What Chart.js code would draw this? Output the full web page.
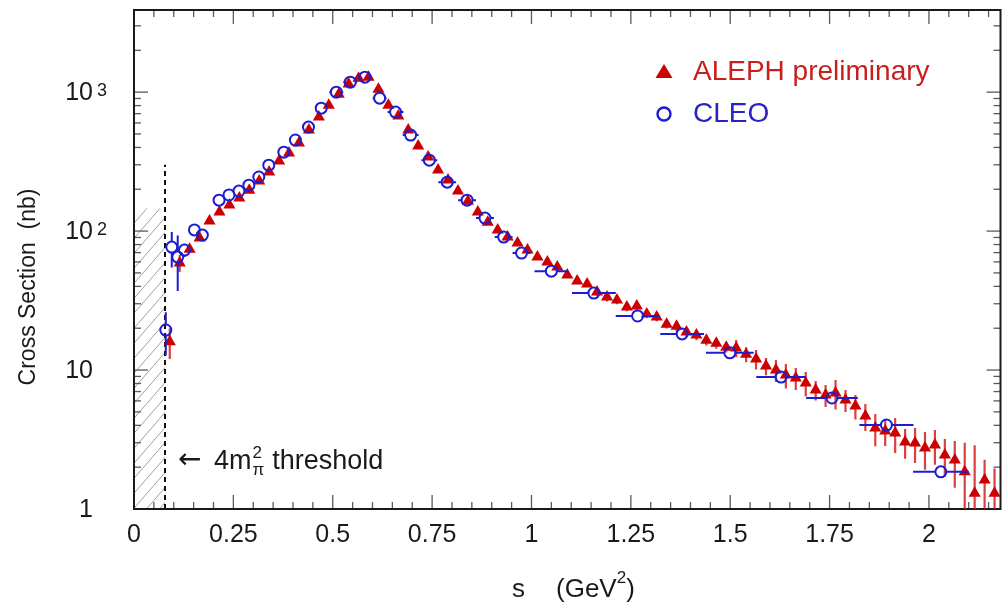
<!DOCTYPE html>
<html>
<head>
<meta charset="utf-8">
<script src="https://cdn.jsdelivr.net/npm/chart.js@4.4.1/dist/chart.umd.min.js"></script>
<style>
  html, body { margin: 0; padding: 0; background: #fff; }
  #wrap { width: 1008px; height: 603px; position: relative; }
</style>
</head>
<body>
<div id="wrap"><canvas id="c" width="1008" height="603"></canvas></div>
<script>
// pi+pi- cross section versus s: ALEPH (tau spectral function) and CLEO
const alephS = [
  0.09, 0.115, 0.14, 0.165, 0.19, 0.215, 0.24, 0.265, 0.29, 0.315,
  0.34, 0.365, 0.39, 0.415, 0.44, 0.465, 0.49, 0.515, 0.54, 0.565,
  0.59, 0.615, 0.64, 0.665, 0.69, 0.715, 0.74, 0.765, 0.79, 0.815,
  0.84, 0.865, 0.89, 0.915, 0.94, 0.965, 0.99, 1.015, 1.04, 1.065,
  1.09, 1.115, 1.14, 1.165, 1.19, 1.215, 1.24, 1.265, 1.29, 1.315,
  1.34, 1.365, 1.39, 1.415, 1.44, 1.465, 1.49, 1.515, 1.54, 1.565,
  1.59, 1.615, 1.64, 1.665, 1.69, 1.715, 1.74, 1.765, 1.79, 1.815,
  1.84, 1.865, 1.89, 1.915, 1.94, 1.965, 1.99, 2.015, 2.04, 2.065,
  2.09, 2.115, 2.14, 2.165
];
const alephSigma = [
  16, 59, 74, 89, 118, 137, 154, 173, 197, 229,
  266, 319, 364, 430, 533, 661, 806, 967, 1142, 1261,
  1282, 1051, 806, 672, 533, 409, 341, 275, 233, 194,
  164, 137, 116, 102, 90.5, 82.0, 73.0, 65.0, 59.8, 55.1,
  48.3, 43.7, 41.6, 36.4, 33.5, 31.9, 28.4, 28.9, 25.3, 24.1,
  21.4, 20.7, 18.8, 17.9, 16.4, 15.6, 14.6, 14.4, 13.0, 12.0,
  10.7, 10.0, 9.2, 8.76, 8.06, 7.18, 6.61, 6.83, 6.08, 5.51,
  4.67, 3.83, 3.64, 3.52, 3.03, 2.98, 2.75, 2.89, 2.45, 2.25,
  1.85, 1.30, 1.62, 1.30
];
const alephErr = [
  4, 8.3, 4, 3, 3, 3, 3, 3, 4, 4,
  5, 6, 6, 7, 8, 10, 12, 14, 16, 18,
  18, 16, 12, 10, 8, 6, 5, 4, 4, 3,
  3, 3, 2.8, 2.5, 2.2, 2.0, 1.9, 1.8, 1.7, 1.6,
  1.5, 1.5, 1.5, 2.5, 2.3, 2.2, 1.9, 2.0, 1.7, 1.65,
  1.5, 1.8, 1.6, 1.5, 1.4, 1.35, 1.25, 2.04, 1.60, 1.93,
  1.52, 1.80, 1.84, 1.58, 1.61, 1.15, 1.19, 1.64, 1.09, 1.10,
  1.03, 1.0, 0.80, 0.99, 0.73, 0.84, 0.83, 0.81, 0.74, 0.83,
  1.15, 1.57, 0.64, 0.66
];

const cleoS = [
  0.080, 0.095, 0.110, 0.127, 0.152, 0.172, 0.214, 0.239, 0.264, 0.289,
  0.314, 0.339, 0.377, 0.406, 0.439, 0.471, 0.509, 0.544, 0.581, 0.618,
  0.658, 0.696, 0.743, 0.788, 0.838, 0.883, 0.930, 0.975, 1.050, 1.157,
  1.267, 1.379, 1.499, 1.628, 1.756, 1.893, 2.030
];
const cleoSigma = [
  19.4, 76.7, 65, 73, 102, 93.6, 167, 182, 194, 214,
  245, 298, 370, 452, 560, 767, 1000, 1180, 1282, 905,
  718, 491, 324, 225, 167, 124, 90.5, 69.5, 51.5, 35.8,
  24.5, 18.2, 13.3, 8.9, 6.29, 4.02, 1.85
];
const cleoErrY = [
  6.7, 22, 28, 8, 8, 8, 6, 6, 6, 7,
  8, 9, 11, 13, 16, 20, 25, 30, 32, 23,
  18, 12, 8, 6, 4.5, 3.4, 2.5, 2, 1.5, 1.0,
  0.7, 0.55, 0.4, 0.3, 0.22, 0.16, 0.1
];
const cleoErrX = [
  0.0075, 0.0075, 0.0075, 0.0125, 0.0125, 0.0125, 0.0125, 0.0125, 0.0125, 0.0125,
  0.0125, 0.0125, 0.015, 0.015, 0.015, 0.015, 0.0175, 0.0175, 0.0175, 0.0175,
  0.02, 0.02, 0.02, 0.0225, 0.0225, 0.0225, 0.0225, 0.0225, 0.0425, 0.055,
  0.055, 0.055, 0.06, 0.0625, 0.065, 0.068, 0.07
];

// axis ticks and labels
const xTickValues = [0, 0.25, 0.5, 0.75, 1, 1.25, 1.5, 1.75, 2];
const xTickLabels = ['0', '0.25', '0.5', '0.75', '1', '1.25', '1.5', '1.75', '2'];
const yTickValues = [1, 10, 100, 1000];
const yTickMantissa = ['1', '10', '10', '10'];
const yTickExponent = ['', '', '2', '3'];

// two-pion threshold 4 m_pi^2 (GeV^2) and the drawn extent of its marker line / hatch
const threshold = 0.078;
const thresholdLineTop = 300;
const hatchTop = 146;

const RED = '#cc0000';
const BLUE = '#1c1cd2';
const FONT = '"Liberation Sans", Arial, Helvetica, sans-serif';

const alephData = alephS.map((s, i) => ({ x: s, y: alephSigma[i], ey: alephErr[i] }));
const cleoData = cleoS.map((s, i) => ({ x: s, y: cleoSigma[i], ey: cleoErrY[i], ex: cleoErrX[i] }));

function clipArea(chart) {
  const a = chart.chartArea;
  chart.ctx.beginPath();
  chart.ctx.rect(a.left, a.top, a.right - a.left, a.bottom - a.top);
  chart.ctx.clip();
}

// error bars, drawn underneath each dataset's markers
const errorBars = {
  id: 'errorBars',
  beforeDatasetDraw(chart, args) {
    const ds = chart.data.datasets[args.index];
    const { ctx, chartArea } = chart;
    const xs = chart.scales.x, ys = chart.scales.y;
    ctx.save();
    clipArea(chart);
    ctx.strokeStyle = ds.errorColor;
    ctx.lineWidth = ds.errorWidth;
    const gap = ds.errorGap;
    const seg = (x1, y1, x2, y2) => { ctx.beginPath(); ctx.moveTo(x1, y1); ctx.lineTo(x2, y2); ctx.stroke(); };
    ds.data.forEach(p => {
      const px = xs.getPixelForValue(p.x), py = ys.getPixelForValue(p.y);
      if (p.ey) {
        const top = ys.getPixelForValue(p.y + p.ey);
        const lo = p.y - p.ey;
        const bot = lo > 0 ? ys.getPixelForValue(lo) : chartArea.bottom + 10;
        if (py - gap > top) seg(px, top, px, py - gap);
        if (bot > py + gap) seg(px, py + gap, px, bot);
      }
      if (p.ex) {
        const l = xs.getPixelForValue(p.x - p.ex), r = xs.getPixelForValue(p.x + p.ex);
        if (px - gap > l) seg(l, py, px - gap, py);
        if (r > px + gap) seg(px + gap, py, r, py);
      }
    });
    ctx.restore();
  }
};

// frame, inward ticks, hatched forbidden region and threshold line
const frameAndRegion = {
  id: 'frameAndRegion',
  beforeDatasetsDraw(chart) {
    const { ctx, chartArea: a } = chart;
    const xs = chart.scales.x, ys = chart.scales.y;
    ctx.save();

    // hatch below threshold
    const hx0 = xs.getPixelForValue(0), hx1 = xs.getPixelForValue(threshold);
    const hy0 = ys.getPixelForValue(hatchTop);
    ctx.save();
    ctx.beginPath();
    ctx.rect(hx0, hy0, hx1 - hx0, a.bottom - hy0);
    ctx.clip();
    ctx.strokeStyle = '#a0a0a0';
    ctx.lineWidth = 1;
    const w = hx1 - hx0;
    for (let yy = hy0; yy < a.bottom + w + 20; yy += 15) {
      ctx.beginPath();
      ctx.moveTo(hx0, yy);
      ctx.lineTo(hx0 + w + 4, yy - (w + 4) * 1.15);
      ctx.stroke();
    }
    ctx.restore();

    // dashed threshold line
    ctx.strokeStyle = '#111';
    ctx.lineWidth = 2;
    ctx.setLineDash([5, 4]);
    ctx.beginPath();
    ctx.moveTo(hx1, a.bottom);
    ctx.lineTo(hx1, ys.getPixelForValue(thresholdLineTop));
    ctx.stroke();
    ctx.setLineDash([]);

    // ticks
    ctx.strokeStyle = '#5a5a5a';
    ctx.lineWidth = 1.3;
    const line = (x1, y1, x2, y2) => { ctx.beginPath(); ctx.moveTo(x1, y1); ctx.lineTo(x2, y2); ctx.stroke(); };
    for (let i = 0; i * 0.05 <= xs.max + 1e-9; i++) {
      const v = i * 0.05;
      const px = xs.getPixelForValue(v);
      const len = (i % 5 === 0) ? 14 : 7;
      line(px, a.bottom, px, a.bottom - len);
      line(px, a.top, px, a.top + len);
    }
    for (let d = 1; d <= 1000; d *= 10) {
      for (let m = 1; m <= 9; m++) {
        const v = m * d;
        if (v > ys.max) break;
        const py = ys.getPixelForValue(v);
        const len = (m === 1) ? 14 : 7;
        line(a.left, py, a.left + len, py);
        line(a.right, py, a.right - len, py);
      }
    }

    // frame
    ctx.strokeStyle = '#1a1a1a';
    ctx.lineWidth = 2;
    ctx.strokeRect(a.left, a.top, a.right - a.left, a.bottom - a.top);
    ctx.restore();
  }
};

// tick labels, axis titles, legend and threshold annotation
const textLayer = {
  id: 'textLayer',
  afterDraw(chart) {
    const { ctx } = chart;
    const xs = chart.scales.x, ys = chart.scales.y;
    ctx.save();
    ctx.fillStyle = '#1a1a1a';

    // x tick labels
    ctx.font = '25px ' + FONT;
    ctx.textAlign = 'center';
    ctx.textBaseline = 'middle';
    xTickValues.forEach((v, i) => ctx.fillText(xTickLabels[i], xs.getPixelForValue(v), 535));

    // y tick labels with exponents
    yTickValues.forEach((v, i) => {
      const py = ys.getPixelForValue(v);
      ctx.font = '25px ' + FONT;
      ctx.textAlign = 'right';
      ctx.textBaseline = 'middle';
      ctx.fillText(yTickMantissa[i], 93, py + 1);
      if (yTickExponent[i]) {
        ctx.font = '18px ' + FONT;
        ctx.textAlign = 'left';
        ctx.textBaseline = 'top';
        ctx.fillText(yTickExponent[i], 97, py - 10);
      }
    });

    // y title
    ctx.save();
    ctx.translate(29, 287);
    ctx.rotate(-Math.PI / 2);
    ctx.font = '23px ' + FONT;
    ctx.textAlign = 'center';
    ctx.textBaseline = 'middle';
    ctx.fillText('Cross Section  (nb)', 0, 0);
    ctx.restore();

    // x title: s   (GeV^2)
    ctx.font = '26px ' + FONT;
    ctx.textAlign = 'left';
    ctx.textBaseline = 'alphabetic';
    ctx.fillText('s', 512, 597);
    ctx.fillText('(GeV', 556, 597);
    let xx = 556 + ctx.measureText('(GeV').width;
    ctx.font = '17px ' + FONT;
    ctx.fillText('2', xx, 583);
    xx += ctx.measureText('2').width;
    ctx.font = '26px ' + FONT;
    ctx.fillText(')', xx, 597);

    // threshold annotation: <- 4 m_pi^2 threshold
    const base = 469;
    ctx.font = '28px "DejaVu Sans", sans-serif';
    ctx.fillText('\u2190', 178, base - 1);
    ctx.font = '27px ' + FONT;
    ctx.fillText('4m', 214, base);
    let ax = 214 + ctx.measureText('4m').width + 1;
    ctx.font = '17px ' + FONT;
    ctx.fillText('2', ax, base - 11);
    ctx.fillText('\u03c0', ax, base + 6);
    ax += ctx.measureText('\u03c0').width + 8;
    ctx.font = '27px ' + FONT;
    ctx.fillText('threshold', ax, base);

    // legend
    const ds = chart.data.datasets;
    ctx.fillStyle = RED;
    ctx.beginPath();
    ctx.moveTo(664, 64); ctx.lineTo(672.5, 78); ctx.lineTo(655.5, 78); ctx.closePath();
    ctx.fill();
    ctx.strokeStyle = BLUE;
    ctx.lineWidth = 2.4;
    ctx.beginPath();
    ctx.arc(664, 114, 6.5, 0, Math.PI * 2);
    ctx.stroke();
    ctx.font = '28px ' + FONT;
    ctx.textAlign = 'left';
    ctx.textBaseline = 'middle';
    ctx.fillStyle = '#c81e1e';
    ctx.fillText(ds[0].label, 693, 72);
    ctx.fillStyle = '#2424c8';
    ctx.fillText(ds[1].label, 693, 114);
    ctx.restore();
  }
};

new Chart(document.getElementById('c'), {
  type: 'scatter',
  data: {
    datasets: [
      {
        label: 'ALEPH preliminary',
        data: alephData,
        pointStyle: 'triangle',
        pointRadius: 7,
        pointHoverRadius: 7,
        backgroundColor: RED,
        borderColor: RED,
        borderWidth: 0,
        showLine: false,
        errorColor: 'rgba(212,30,30,0.85)',
        errorWidth: 2.2,
        errorGap: 0,
        order: 2
      },
      {
        label: 'CLEO',
        data: cleoData,
        pointStyle: 'circle',
        pointRadius: 5.5,
        pointHoverRadius: 5.5,
        backgroundColor: 'rgba(0,0,0,0)',
        borderColor: BLUE,
        borderWidth: 2,
        showLine: false,
        errorColor: BLUE,
        errorWidth: 2,
        errorGap: 5.5,
        order: 1
      }
    ]
  },
  options: {
    responsive: false,
    animation: false,
    events: [],
    layout: { padding: { top: 10, right: 2, left: 0, bottom: 0 } },
    plugins: { legend: { display: false }, tooltip: { enabled: false } },
    scales: {
      x: {
        type: 'linear',
        min: 0,
        max: 2.18,
        ticks: { display: false },
        grid: { display: false },
        border: { display: false },
        afterFit(scale) { scale.height = 94; }
      },
      y: {
        type: 'logarithmic',
        min: 1,
        max: 3900,
        ticks: { display: false },
        grid: { display: false },
        border: { display: false },
        afterFit(scale) { scale.width = 134; }
      }
    }
  },
  plugins: [frameAndRegion, errorBars, textLayer]
});
</script>
</body>
</html>
